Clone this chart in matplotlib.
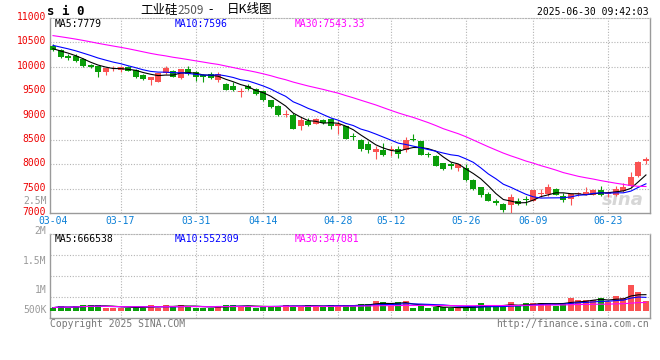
import numpy as np
import pandas as pd
import matplotlib
matplotlib.use('Agg')
import matplotlib.pyplot as plt
import matplotlib.transforms as mtransforms

# 工业硅2509 日K线, 2025-03-04 ~ 2025-06-30
holidays = ['2025-04-04', '2025-05-01', '2025-05-02', '2025-05-05', '2025-06-02']

open_ = [10432, 10342, 10212, 10226, 10156, 10033, 10012, 9897, 9945, 9930,
         10000, 9938, 9835, 9724, 9691, 9862, 9918, 9759, 9944, 9897,
         9821, 9848, 9718, 9636, 9601, 9480, 9601, 9547, 9498, 9313,
         9204, 9020, 9004, 8776, 8880, 8827, 8915, 8930, 8778, 8778,
         8586, 8504, 8422, 8243, 8284, 8284, 8319, 8284, 8524, 8469,
         8216, 8175, 8024, 7997, 7921, 7914, 7673, 7529, 7385, 7248,
         7186, 7165, 7248, 7290, 7250, 7391, 7391, 7494, 7357, 7289,
         7395, 7378, 7378, 7474, 7395, 7378, 7446, 7549, 7757, 8065]
high = [10465, 10362, 10253, 10267, 10170, 10060, 10020, 9975, 10020, 10010,
        10020, 9950, 9850, 9790, 9875, 10010, 9930, 9960, 10012, 9910,
        9860, 9897, 9897, 9660, 9684, 9574, 9640, 9570, 9510, 9320,
        9210, 9121, 9050, 8971, 8950, 8950, 8930, 8950, 8880, 8790,
        8642, 8510, 8470, 8370, 8436, 8366, 8370, 8559, 8627, 8480,
        8250, 8180, 8030, 8051, 8005, 8010, 7690, 7540, 7440, 7290,
        7200, 7385, 7310, 7350, 7480, 7494, 7597, 7510, 7420, 7400,
        7440, 7528, 7490, 7563, 7450, 7550, 7611, 7837, 8060, 8140]
low = [10320, 10170, 10130, 10100, 10000, 9970, 9794, 9835, 9910, 9900,
       9905, 9760, 9725, 9621, 9685, 9850, 9780, 9740, 9830, 9704,
       9696, 9750, 9684, 9520, 9500, 9374, 9530, 9430, 9290, 9160,
       9000, 8963, 8720, 8710, 8780, 8820, 8820, 8730, 8627, 8510,
       8490, 8270, 8230, 8107, 8160, 8175, 8130, 8250, 8470, 8180,
       8140, 7960, 7880, 7900, 7866, 7650, 7480, 7323, 7240, 7170,
       7020, 6990, 7170, 7170, 7240, 7323, 7350, 7360, 7220, 7165,
       7350, 7360, 7370, 7350, 7330, 7340, 7430, 7540, 7740, 8010]
close = [10342, 10191, 10171, 10109, 10012, 9986, 9897, 9965, 9960, 10000,
         9918, 9794, 9739, 9780, 9862, 9971, 9794, 9944, 9842, 9786,
         9794, 9759, 9848, 9533, 9533, 9500, 9547, 9451, 9313, 9169,
         9004, 9033, 8730, 8898, 8812, 8930, 8847, 8778, 8833, 8524,
         8559, 8312, 8284, 8319, 8195, 8312, 8216, 8504, 8490, 8195,
         8188, 7969, 7907, 7969, 7997, 7680, 7494, 7364, 7248, 7213,
         7063, 7337, 7179, 7270, 7474, 7419, 7528, 7378, 7268, 7385,
         7405, 7433, 7470, 7370, 7405, 7494, 7530, 7734, 8045, 8100]
volume = [136000, 190000, 138000, 195000, 236000, 232000, 238000, 134000, 137000, 133000,
          139000, 192000, 136000, 235000, 138000, 233000, 191000, 237000, 194000, 135000,
          137000, 134000, 196000, 239000, 234000, 193000, 190000, 138000, 192000, 195000,
          191000, 236000, 193000, 196000, 238000, 194000, 192000, 235000, 195000, 237000,
          233000, 300000, 276000, 398000, 356000, 194000, 358000, 397000, 121000, 190000,
          118000, 176000, 170000, 115000, 112000, 120000, 205000, 310000, 230000, 212000,
          160000, 350000, 228000, 310000, 310000, 315000, 345000, 210000, 345000, 518000,
          436000, 465000, 440000, 530000, 357000, 604000, 520000, 1054000, 767000, 388000]
# 03-04 之前 29 个交易日的收盘价, 只用来算均线
prev_close = [10860, 10880, 10850, 10830, 10860, 10820, 10800, 10780, 10800, 10770,
              10740, 10720, 10740, 10700, 10670, 10645, 10620, 10590, 10560, 10540,
              10540, 10520, 10510, 10490, 10470, 10420, 10390, 10370, 10328]

xtick_labels = ['03-04', '03-17', '03-31', '04-14', '04-28', '05-12', '05-26', '06-09', '06-23']
price_ticks = [7000, 7500, 8000, 8500, 9000, 9500, 10000, 10500, 11000]
ma_text = ['MA5:7779', 'MA10:7596', 'MA30:7543.33']
vol_ma_text = ['MA5:666538', 'MA10:552309', 'MA30:347081']
vol_labels = ['2.5M', '2M', '1.5M', '1M', '500K']

RED = '#fa5252'
GREEN = '#0a9e0a'
MA_COLORS = ['black', '#0000ff', '#ff00ff']
GRID = '#b4b4b4'
MONO = 'DejaVu Sans Mono'
CJK = ['Noto Sans CJK SC', 'DejaVu Sans']

W, H = 660, 360
def fx(px):
    return px / W
def fy(py):
    return 1 - py / H

fig = plt.figure(figsize=(W / 100, H / 100), dpi=100)
ax = fig.add_axes([fx(50), fy(213), 600 / W, 195 / H])
axv = fig.add_axes([fx(50), fy(318), 600 / W, 84 / H])

dates = [d for d in pd.bdate_range('2025-03-04', '2025-06-30')
         if d.strftime('%Y-%m-%d') not in holidays]
day_labels = [d.strftime('%m-%d') for d in dates]
tick_idx = [day_labels.index(t) for t in xtick_labels]

x = np.arange(len(close))
o = np.array(open_, dtype=float)
c = np.array(close, dtype=float)
hi = np.array(high, dtype=float)
lo = np.array(low, dtype=float)
colors = np.where(c >= o, RED, GREEN)

# K线
ax.vlines(x, lo, hi, colors=colors, lw=0.8, zorder=3)
body = np.maximum(np.abs(c - o), 18)
ax.bar(x, body, bottom=np.minimum(o, c), width=0.8, color=colors, lw=0, zorder=4)

full = pd.Series(prev_close + close, dtype=float)
for n, col in zip([5, 10, 30], MA_COLORS):
    ma = full.rolling(n).mean().to_numpy()[len(prev_close):]
    ax.plot(x, ma, color=col, lw=0.8, zorder=5)

ax.text(0.955, 0.065, 'sina', transform=ax.transAxes, fontsize=13, color='#d6d6d6',
        style='italic', weight='bold', ha='center', va='center', zorder=2)

# 成交量
axv.bar(x, volume, width=0.8, color=colors, lw=0, zorder=3)
vol = pd.Series(volume, dtype=float)
for n, col in zip([5, 10, 30], MA_COLORS):
    axv.plot(x, vol.rolling(n, min_periods=1).mean(), color=col, lw=0.8, zorder=4)

xmin, xmax = -0.4, 79.54
ax.set_xlim(xmin, xmax)
axv.set_xlim(xmin, xmax)
ax.set_ylim(7000, 11000)
axv.set_ylim(-287000, 3145000)

grid_kw = dict(color=GRID, lw=0.8, linestyle=(0, (1, 1.5)), zorder=1)
for a in (ax, axv):
    for t in tick_idx[1:]:
        a.axvline(t, **grid_kw)
    for side in ['left', 'right', 'bottom']:
        a.spines[side].set_color('#9a9a9a')
        a.spines[side].set_linewidth(1.0)
    a.spines['top'].set_color(GRID)
    a.spines['top'].set_linestyle((0, (1, 1.5)))
    a.tick_params(length=0)

for p in price_ticks[1:-1]:
    ax.axhline(p, **grid_kw)
vlo, vhi = axv.get_ylim()
for f in (0.25, 0.5, 0.75):
    axv.axhline(vlo + (vhi - vlo) * f, **grid_kw)

ax.set_yticks(price_ticks, [str(p) for p in price_ticks])
ax.tick_params(axis='y', colors='#ee0000', labelsize=7, pad=3)
up2 = mtransforms.ScaledTranslation(0, 2 / 100, fig.dpi_scale_trans)
for lab in ax.get_yticklabels():
    lab.set_fontfamily(MONO)
    lab.set_transform(lab.get_transform() + up2)
ax.set_xticks(tick_idx, xtick_labels)
ax.tick_params(axis='x', colors='#0a7fd6', labelsize=7, pad=2.5)
for lab in ax.get_xticklabels():
    lab.set_fontfamily(MONO)
axv.set_xticks(tick_idx, [])
axv.set_yticks([])

# 文字
fig.text(fx(47), fy(11.5), 's i 0', fontsize=9, weight='bold', family=MONO, va='center')
fig.text(fx(140), fy(10), '工业硅', fontsize=9, family=CJK, va='center')
fig.text(fx(177), fy(10.5), '2509', fontsize=8.5, family=CJK, va='center', color='#555555')
fig.text(fx(208), fy(10), '-', fontsize=9, family=CJK, va='center')
fig.text(fx(227), fy(10), '日K线图', fontsize=9, family=CJK, va='center')
fig.text(fx(649), fy(12), '2025-06-30 09:42:03', fontsize=7, family=MONO, ha='right', va='center')

for s, col, px in zip(ma_text, MA_COLORS, [55, 175, 295]):
    fig.text(fx(px), fy(24), s, fontsize=7, family=MONO, color=col, va='center')
for s, col, px in zip(vol_ma_text, MA_COLORS, [55, 175, 295]):
    fig.text(fx(px), fy(238.5), s, fontsize=7, family=MONO, color=col, va='center')

for s, py in zip(vol_labels, [201, 231, 261, 290, 310]):
    fig.text(fx(46.5), fy(py), s, fontsize=7, family=MONO, color='#9a9a9a', ha='right', va='center')

fig.text(fx(50), fy(324), 'Copyright 2025 SINA.COM', fontsize=7, family=MONO, color='#777777', va='center')
fig.text(fx(649), fy(324), 'http://finance.sina.com.cn', fontsize=7, family=MONO, color='#777777',
         ha='right', va='center')

fig.savefig('out.png', dpi=100, facecolor='white')
